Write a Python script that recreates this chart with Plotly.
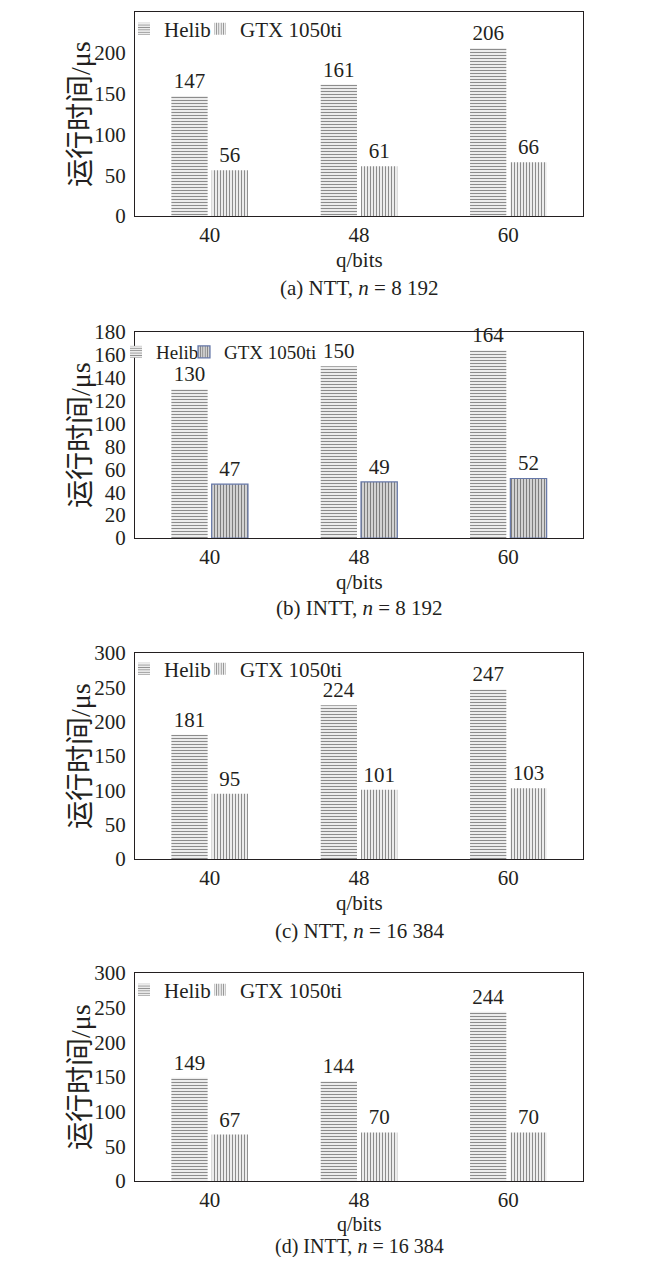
import plotly.graph_objects as go
from plotly.subplots import make_subplots

# data
q_bits = ["40", "48", "60"]

ntt_8192_helib = [147, 161, 206]
ntt_8192_gtx = [56, 61, 66]
intt_8192_helib = [130, 150, 164]
intt_8192_gtx = [47, 49, 52]
ntt_16384_helib = [181, 224, 247]
ntt_16384_gtx = [95, 101, 103]
intt_16384_helib = [149, 144, 244]
intt_16384_gtx = [67, 70, 70]

captions = ["(a) NTT, <i>n</i> = 8 192", "(b) INTT, <i>n</i> = 8 192",
            "(c) NTT, <i>n</i> = 16 384", "(d) INTT, <i>n</i> = 16 384"]
y_max = [250, 180, 300, 300]
y_step = [50, 20, 50, 50]

# the page puts an 8px margin round the figure
PAGE = 8
W, H = 650 - 2 * PAGE, 1265 - 2 * PAGE
FONT = "Liberation Serif, Noto Sans CJK SC, serif"
INK = "#231f20"


def py(y):  # screen pixel row -> paper coordinate
    return 1 - (y - PAGE) / H


def px(x):
    return (x - PAGE) / W


# plot boxes in screen pixels (top, bottom) of each panel
boxes = [(12, 216), (332, 538), (653, 859), (973, 1181)]
left, right = 135, 583
legend_y = [29, 352, 669, 990]
# where each legend text starts (helib, gtx) and its size
legend_x = [(164, 240), (156, 224), (164, 240), (164, 240)]
legend_size = [21, 19, 21, 21]
qbits_gap = [44, 44, 44, 43]
caption_gap = [72, 70, 72, 65]
bottom_size = [21, 21, 21, 20]

panels = [
    (ntt_8192_helib, ntt_8192_gtx),
    (intt_8192_helib, intt_8192_gtx),
    (ntt_16384_helib, ntt_16384_gtx),
    (intt_16384_helib, intt_16384_gtx),
]

fig = make_subplots(rows=4, cols=1)

for i, (helib, gtx) in enumerate(panels):
    leg_a = "legend" if i == 0 else "legend%d" % (2 * i + 1)
    leg_b = "legend%d" % (2 * i + 2)
    blue = (i == 1)  # panel (b) has outlined gpu bars
    fig.add_trace(go.Bar(
        x=q_bits, y=helib, name="Helib", legend=leg_a, showlegend=True,
        text=helib, textposition="outside", constraintext="none", cliponaxis=False,
        textfont=dict(size=21, color=INK, family=FONT),
        marker=dict(color="white", line=dict(width=0),
                    pattern=dict(shape="-", fgcolor="#1a1a1a", bgcolor="white",
                                 size=3, solidity=0.45)),
    ), row=i + 1, col=1)
    fig.add_trace(go.Bar(
        x=q_bits, y=gtx, name="GTX 1050ti", legend=leg_b, showlegend=True,
        text=gtx, textposition="outside", constraintext="none", cliponaxis=False,
        textfont=dict(size=21, color=INK, family=FONT),
        marker=dict(color="white",
                    line=dict(width=1.2 if blue else 0, color="#6577a8"),
                    pattern=dict(shape="|", fgcolor="#1a1a1a",
                                 bgcolor="#e2e2e2" if blue else "white",
                                 size=3, solidity=0.45)),
    ), row=i + 1, col=1)

    top, bot = boxes[i]
    xa = "xaxis" if i == 0 else "xaxis%d" % (i + 1)
    ya = "yaxis" if i == 0 else "yaxis%d" % (i + 1)
    fig.layout[xa].update(
        domain=[px(left), px(right)], showline=True, mirror=True, automargin=False,
        linecolor=INK, linewidth=1.2, ticks="", showgrid=False,
        tickfont=dict(size=21, color=INK, family=FONT), ticklabelstandoff=0,
    )
    fig.layout[ya].update(
        domain=[py(bot), py(top)], range=[0, y_max[i]], dtick=y_step[i],
        showline=True, mirror=True, linecolor=INK, linewidth=1.2, automargin=False,
        ticks="", showgrid=False, zeroline=False,
        tickfont=dict(size=21, color=INK, family=FONT), ticklabelstandoff=4,
    )

    for leg, lx in zip((leg_a, leg_b), legend_x[i]):
        fig.layout[leg] = dict(
            orientation="h", x=px(lx - 40), xanchor="left", y=py(legend_y[i]),
            yanchor="middle", bgcolor="rgba(0,0,0,0)",
            font=dict(size=legend_size[i], color=INK, family=FONT), itemwidth=30,
        )

    mid = (left + right) / 2
    fig.add_annotation(text="q/bits", x=px(mid), y=py(bot + qbits_gap[i]),
                       xref="paper", yref="paper",
                       xanchor="center", yanchor="middle", showarrow=False,
                       font=dict(size=bottom_size[i], color=INK, family=FONT))
    fig.add_annotation(text=captions[i], x=px(mid), y=py(bot + caption_gap[i]),
                       xref="paper", yref="paper",
                       xanchor="center", yanchor="middle", showarrow=False,
                       font=dict(size=bottom_size[i], color=INK, family=FONT))
    fig.add_annotation(text="运行时间/μs", x=px(80), y=py((top + bot) / 2),
                       xref="paper", yref="paper", textangle=-90, showarrow=False,
                       xanchor="center", yanchor="middle",
                       font=dict(size=28, color=INK, family=FONT))

fig.update_layout(
    width=W, height=H, showlegend=True,
    margin=dict(l=0, r=0, t=0, b=0, autoexpand=False),
    paper_bgcolor="white", plot_bgcolor="white",
    barmode="group", bargap=0.46, bargroupgap=0.1,
    font=dict(family=FONT, color=INK),
)

fig.write_html("out.html")
